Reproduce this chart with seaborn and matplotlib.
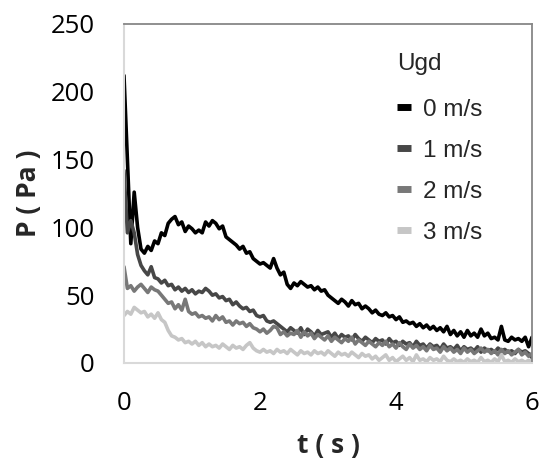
import numpy as np
import pandas as pd
import seaborn as sns
import matplotlib.pyplot as plt
from matplotlib.lines import Line2D

# sample times (s), 0.05 s apart
t = np.linspace(0, 6, 121)

p_0ms = [212, 150, 88, 126, 100, 84, 81, 86, 83, 90, 88, 96, 94, 103, 106, 108, 102, 104, 97, 101,
         99, 96, 98, 96, 104, 101, 105, 103, 99, 101, 93, 91, 89, 87, 84, 86, 81, 82, 77, 75,
         73, 74, 72, 70, 77, 70, 65, 67, 58, 55, 59, 57, 60, 58, 56, 57, 54, 56, 53, 54,
         50, 48, 46, 44, 47, 45, 42, 46, 43, 44, 40, 42, 40, 37, 39, 36, 35, 37, 34, 35,
         32, 34, 30, 31, 29, 30, 27, 29, 26, 28, 25, 27, 24, 26, 23, 27, 21, 24, 20, 23,
         19, 24, 20, 22, 19, 25, 20, 22, 18, 19, 17, 27, 17, 16, 19, 17, 18, 16, 19, 12, 19]

p_1ms = [142, 96, 105, 96, 80, 72, 68, 65, 71, 63, 62, 59, 61, 57, 58, 54, 56, 53, 55, 52,
         54, 51, 53, 52, 55, 53, 50, 51, 48, 49, 46, 47, 43, 45, 42, 40, 41, 38, 39, 35,
         34, 35, 31, 30, 31, 29, 27, 25, 23, 26, 24, 22, 26, 21, 25, 23, 20, 24, 21, 22,
         23, 19, 22, 18, 21, 19, 20, 17, 21, 18, 16, 19, 17, 15, 18, 16, 17, 14, 18, 15,
         16, 13, 16, 14, 15, 12, 16, 13, 14, 11, 14, 12, 13, 10, 14, 11, 12, 10, 13, 9,
         12, 10, 11, 9, 12, 8, 11, 9, 10, 8, 11, 9, 10, 8, 9, 7, 10, 8, 9, 7, 4]

p_2ms = [71, 55, 57, 53, 56, 58, 55, 52, 56, 54, 53, 50, 47, 44, 45, 40, 43, 39, 47, 38,
         36, 37, 34, 35, 33, 34, 31, 35, 32, 34, 30, 31, 28, 31, 29, 30, 27, 29, 26, 25,
         23, 25, 22, 24, 27, 26, 21, 23, 20, 22, 21, 24, 19, 23, 20, 22, 18, 21, 19, 17,
         20, 16, 19, 17, 15, 18, 16, 19, 14, 17, 15, 13, 16, 14, 12, 15, 13, 16, 12, 14,
         11, 15, 12, 10, 14, 11, 13, 10, 12, 9, 13, 10, 11, 8, 12, 9, 11, 8, 10, 7,
         11, 8, 10, 7, 9, 11, 8, 10, 7, 9, 6, 10, 7, 9, 6, 8, 10, 6, 8, 5, 7]

p_3ms = [35, 38, 36, 41, 39, 37, 38, 34, 36, 33, 37, 32, 30, 24, 20, 19, 17, 18, 15, 16,
         14, 16, 13, 15, 12, 14, 12, 13, 11, 14, 12, 10, 13, 11, 12, 10, 13, 15, 11, 9,
         8, 10, 8, 9, 7, 10, 8, 9, 7, 10, 8, 6, 9, 7, 8, 6, 9, 7, 8, 6,
         9, 7, 5, 8, 6, 7, 5, 8, 6, 4, 7, 5, 6, 3, 5, 2, 4, 6, 2, 4,
         1, 3, 5, 2, 4, 1, 6, 2, 3, 1, 4, 2, 3, 1, 5, 2, 1, 3, 1, 2,
         0.5, 3, 1, 2, 0.5, 4, 1, 2, 0.5, 3, 1, 6, 1, 2, 0.5, 3, 1, 2, 0.5, 2, 1]

labels = ['0 m/s', '1 m/s', '2 m/s', '3 m/s']
colors = ['#000000', '#474747', '#787878', '#c6c6c6']

df = pd.DataFrame({
    't': np.tile(t, 4),
    'P': p_0ms + p_1ms + p_2ms + p_3ms,
    'Ugd': np.repeat(labels, len(t)),
})

sns.set_style('white')
plt.rcParams['font.family'] = ['Open Sans', 'DejaVu Sans']

fig = plt.figure(figsize=(5.41, 4.66), dpi=100)
ax = fig.add_axes([124/541, 103/466, 408/541, 339/466])

sns.lineplot(data=df, x='t', y='P', hue='Ugd', palette=colors, hue_order=labels,
             linewidth=2.6, ax=ax, legend=False)

ax.set_xlim(0, 6)
ax.set_ylim(0, 250)
ax.set_xticks([0, 2, 4, 6])
ax.set_yticks([0, 50, 100, 150, 200, 250])
ax.tick_params(axis='both', direction='in', length=7, width=1, color='#d0d0d0',
               labelsize=18.5, labelcolor='black')
ax.tick_params(axis='y', pad=21)
ax.tick_params(axis='x', pad=20)

for side in ['left', 'bottom']:
    ax.spines[side].set_color('#d9d9d9')
    ax.spines[side].set_linewidth(1.5)
for side in ['top', 'right']:
    ax.spines[side].set_color('#878787')
    ax.spines[side].set_linewidth(1.3)

ax.set_xlabel('t ( s )', fontsize=19, fontweight='bold', labelpad=12)
ax.set_ylabel('P ( Pa )', fontsize=19, fontweight='bold', labelpad=6)

handles = [Line2D([], [], color=c, lw=5, solid_capstyle='butt') for c in colors]
leg = ax.legend(handles, labels, title='Ugd', loc='upper left',
                bbox_to_anchor=(385/541, 1 - 41/466), bbox_transform=fig.transFigure,
                frameon=False, handlelength=0.55, handletextpad=0.5, labelspacing=0.78,
                borderpad=0, prop={'family': 'Liberation Sans', 'size': 17.5},
                title_fontproperties={'family': 'Liberation Sans', 'size': 17.5})
leg._legend_box.align = 'left'
leg._legend_box.sep = 17

fig.savefig('out.png', dpi=100)
